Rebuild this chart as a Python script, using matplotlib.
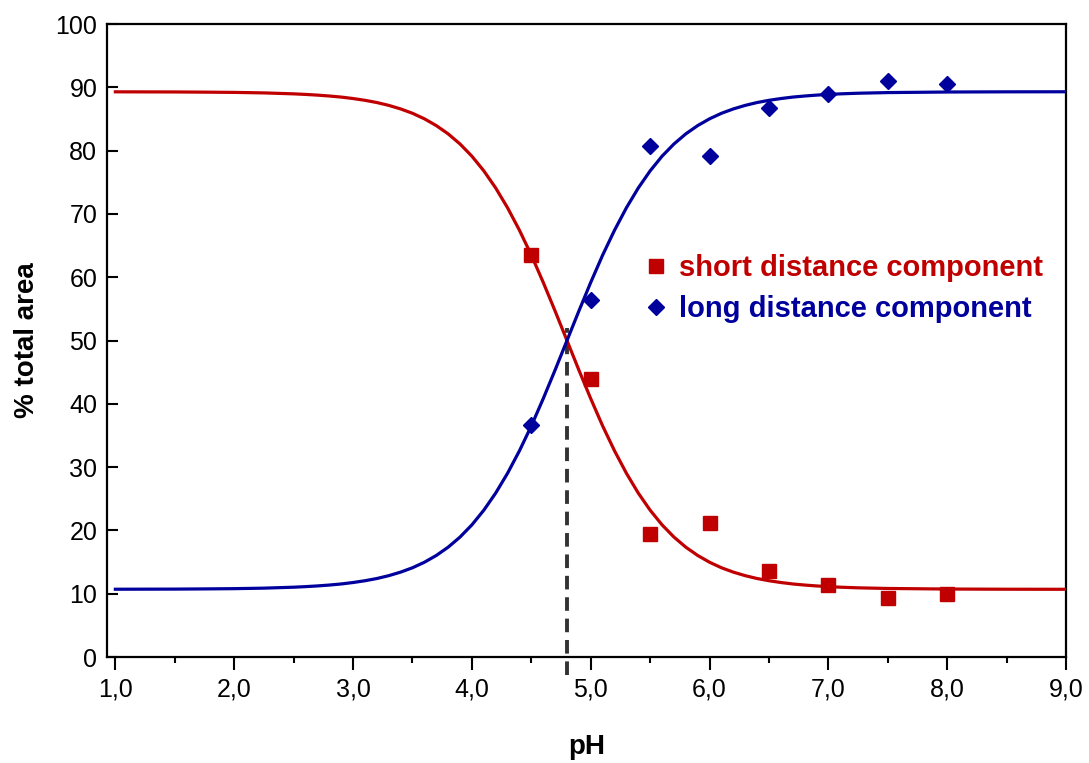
import matplotlib
matplotlib.use("Agg")
import matplotlib.pyplot as plt
from matplotlib.ticker import MultipleLocator, FuncFormatter

plt.rcParams['font.family'] = ['Liberation Sans', 'DejaVu Sans']

# measured points
ph_points = [4.5, 5.0, 5.5, 6.0, 6.5, 7.0, 7.5, 8.0]
short_points = [63.5, 44.0, 19.5, 21.2, 13.6, 11.3, 9.4, 10.0]
long_points = [36.7, 56.4, 80.8, 79.1, 86.8, 89.0, 91.0, 90.5]

# fitted curves
ph_curve = [1.0, 1.5, 1.75, 2.0, 2.25, 2.5, 2.6, 2.7, 2.8, 2.9,
            3.0, 3.1, 3.2, 3.3, 3.4, 3.5, 3.6, 3.7, 3.8, 3.9,
            4.0, 4.1, 4.2, 4.3, 4.4, 4.5, 4.6, 4.7, 4.8, 4.9,
            5.0, 5.1, 5.2, 5.3, 5.4, 5.5, 5.6, 5.7, 5.8, 5.9,
            6.0, 6.1, 6.2, 6.3, 6.4, 6.5, 6.6, 6.7, 6.8, 6.9,
            7.0, 7.1, 7.25, 7.5, 8.0, 8.5, 9.0]
short_curve = [89.29, 89.27, 89.24, 89.20, 89.12, 88.97, 88.88, 88.77, 88.63, 88.46,
               88.23, 87.95, 87.60, 87.15, 86.59, 85.90, 85.03, 83.96, 82.65, 81.05,
               79.12, 76.81, 74.10, 70.97, 67.42, 63.49, 59.19, 54.66, 50.00, 45.34,
               40.81, 36.51, 32.58, 29.03, 25.90, 23.19, 20.88, 18.95, 17.35, 16.04,
               14.97, 14.10, 13.41, 12.85, 12.40, 12.05, 11.77, 11.54, 11.37, 11.23,
               11.12, 11.03, 10.93, 10.83, 10.74, 10.71, 10.70]
long_curve = [10.71, 10.73, 10.76, 10.80, 10.88, 11.03, 11.12, 11.23, 11.37, 11.54,
              11.77, 12.05, 12.40, 12.85, 13.41, 14.10, 14.97, 16.04, 17.35, 18.95,
              20.88, 23.19, 25.90, 29.03, 32.58, 36.51, 40.81, 45.34, 50.00, 54.66,
              59.19, 63.49, 67.42, 70.97, 74.10, 76.81, 79.12, 81.05, 82.65, 83.96,
              85.03, 85.90, 86.59, 87.15, 87.60, 87.95, 88.23, 88.46, 88.63, 88.77,
              88.88, 88.97, 89.07, 89.17, 89.26, 89.29, 89.30]

pka = [4.8]
pka_top = [52.0]

RED = '#C00000'
BLUE = '#00009C'

fig = plt.figure(figsize=(10.89, 7.63), dpi=100)
ax = fig.add_axes([0.0983, 0.1389, 0.8807, 0.8296])

ax.plot(ph_curve, short_curve, color=RED, lw=2.3, zorder=3)
ax.plot(ph_curve, long_curve, color=BLUE, lw=2.3, zorder=3)
ax.plot([pka[0], pka[0]], [-2.8, pka_top[0]], color='#333333', lw=2.8,
        ls=(0, (3.5, 2)), zorder=2, clip_on=False)
ax.plot(ph_points, short_points, ls='none', marker='s', ms=10, color=RED,
        label='short distance component', zorder=4)
ax.plot(ph_points, long_points, ls='none', marker='D', ms=8.6, color=BLUE,
        label='long distance component', zorder=4)

ax.set_xlim(0.93, 9.0)
ax.set_ylim(0, 100)
ax.xaxis.set_major_locator(MultipleLocator(1.0))
ax.xaxis.set_minor_locator(MultipleLocator(0.5))
ax.yaxis.set_major_locator(MultipleLocator(10))
ax.xaxis.set_major_formatter(FuncFormatter(lambda v, p: f"{v:.1f}".replace('.', ',')))
ax.tick_params(axis='x', which='major', direction='out', length=9, width=1.5,
               labelsize=18, pad=6)
ax.tick_params(axis='x', which='minor', direction='out', length=4.5, width=1.5)
ax.tick_params(axis='y', which='major', direction='in', length=8, width=1.5,
               labelsize=18, pad=7)
for s in ax.spines.values():
    s.set_linewidth(1.6)

ax.set_xlabel('pH', fontsize=20, fontweight='bold', labelpad=23)
ax.set_ylabel('% total area', fontsize=20, fontweight='bold', labelpad=11)

leg = ax.legend(loc='upper left', bbox_to_anchor=(0.550, 0.659), frameon=False,
                fontsize=21, handlelength=0.5, handletextpad=0.54,
                labelspacing=0.44, borderpad=0)
for t, c in zip(leg.get_texts(), [RED, BLUE]):
    t.set_color(c)
    t.set_fontweight('bold')

fig.savefig('out.png', dpi=100)
